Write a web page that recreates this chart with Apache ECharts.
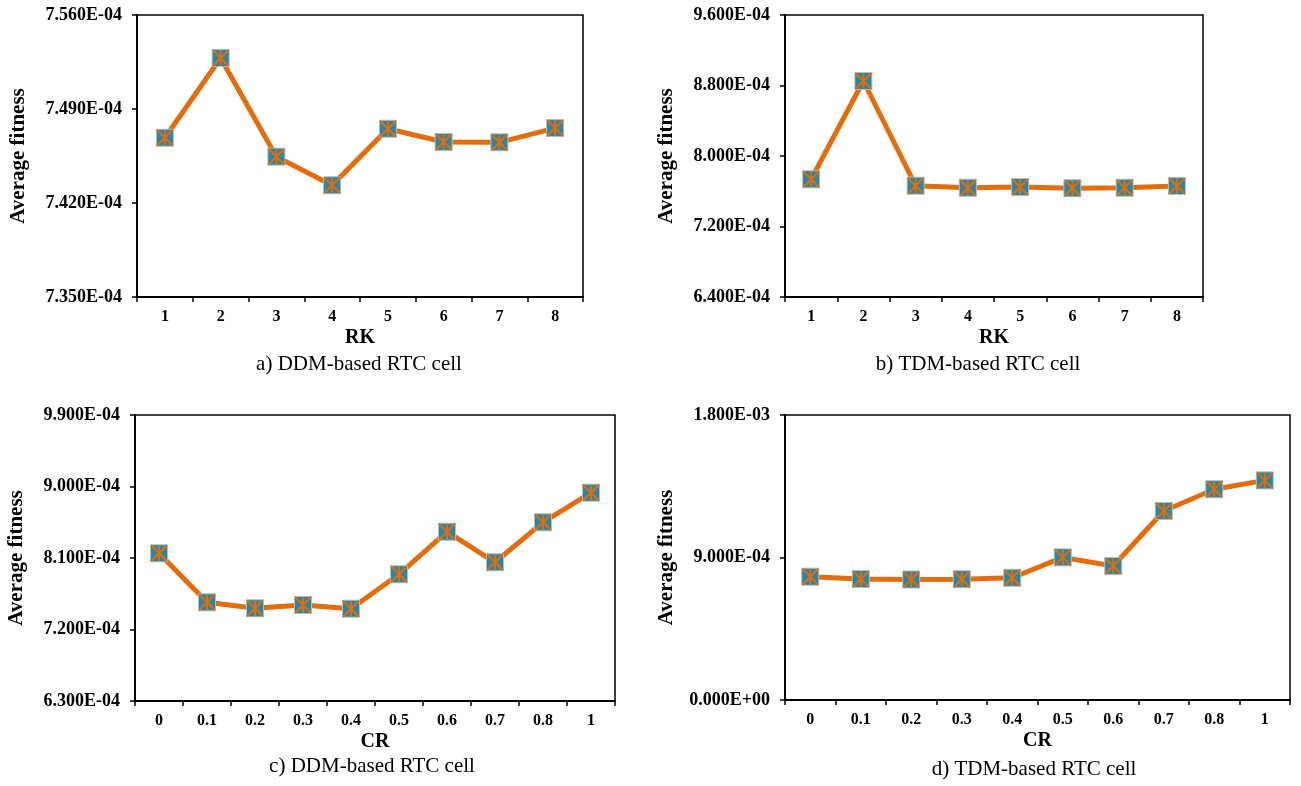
<!DOCTYPE html>
<html>
<head>
<meta charset="utf-8">
<script src="https://cdn.jsdelivr.net/npm/echarts@6/dist/echarts.min.js"></script>
<style>
  html, body { margin: 0; padding: 0; background: #fff; }
  #chart { width: 1301px; height: 786px; }
</style>
</head>
<body>
<div id="chart"></div>
<script>
// categories
const rkLabels = ['1', '2', '3', '4', '5', '6', '7', '8'];
const crLabels = ['0', '0.1', '0.2', '0.3', '0.4', '0.5', '0.6', '0.7', '0.8', '1'];

// average fitness values
const ddmRK = [7.4686e-4, 7.528e-4, 7.4545e-4, 7.4332e-4, 7.4753e-4, 7.4654e-4, 7.4652e-4, 7.4758e-4];
const tdmRK = [7.736e-4, 8.851e-4, 7.663e-4, 7.640e-4, 7.648e-4, 7.634e-4, 7.640e-4, 7.660e-4];
const ddmCR = [8.159e-4, 7.542e-4, 7.467e-4, 7.508e-4, 7.462e-4, 7.895e-4, 8.431e-4, 8.046e-4, 8.549e-4, 8.922e-4];
const tdmCR = [7.787e-4, 7.642e-4, 7.61e-4, 7.63e-4, 7.72e-4, 9.01e-4, 8.46e-4, 11.94e-4, 13.31e-4, 13.87e-4];

// y axis ranges [min, max, interval]
const yRanges = [
    [7.35e-4, 7.56e-4, 0.07e-4],
    [6.4e-4, 9.6e-4, 0.8e-4],
    [6.3e-4, 9.9e-4, 0.9e-4],
    [0, 1.8e-3, 9e-4]
];

const captions = ['a) DDM-based RTC cell', 'b) TDM-based RTC cell', 'c) DDM-based RTC cell', 'd) TDM-based RTC cell'];
const xNames = ['RK', 'RK', 'CR', 'CR'];

const FONT = '"Liberation Serif", "Times New Roman", serif';
const ORANGE = '#E46C0A';
const TEAL = '#31849B';

function sci(v) {
    const s = Number(v).toExponential(3);
    const parts = s.split('e');
    const n = parseInt(parts[1], 10);
    return parts[0] + 'E' + (n < 0 ? '-' : '+') + String(Math.abs(n)).padStart(2, '0');
}

const grids = [
    { left: 137, top: 15, width: 446, height: 282 },
    { left: 785, top: 15, width: 418, height: 282 },
    { left: 135, top: 415, width: 480, height: 286 },
    { left: 785, top: 415, width: 505, height: 285 }
];
const cats = [rkLabels, rkLabels, crLabels, crLabels];
const values = [ddmRK, tdmRK, ddmCR, tdmCR];
const captionPos = [[359, 354], [978, 354], [372, 756], [1034, 759]];

const chart = echarts.init(document.getElementById('chart'));

const option = {
    animation: false,
    backgroundColor: '#fff',
    grid: grids.map(g => Object.assign({ show: true, borderColor: '#000', borderWidth: 1.5, backgroundColor: 'transparent' }, g)),
    xAxis: cats.map((c, i) => ({
        type: 'category',
        gridIndex: i,
        data: c,
        boundaryGap: true,
        name: xNames[i],
        nameLocation: 'middle',
        nameGap: 31,
        nameTextStyle: { fontFamily: FONT, fontWeight: 'bold', fontSize: 20, color: '#000' },
        axisLine: { lineStyle: { color: '#000', width: 2 } },
        axisTick: { show: true, length: 5, lineStyle: { color: '#000', width: 1.5 } },
        axisLabel: { fontFamily: FONT, fontWeight: 'bold', fontSize: 16, color: '#000', margin: 12 },
        splitLine: { show: false }
    })),
    yAxis: yRanges.map((r, i) => ({
        type: 'value',
        gridIndex: i,
        min: r[0],
        max: r[1],
        interval: r[2],
        name: 'Average fitness',
        nameLocation: 'middle',
        nameGap: 108,
        nameTextStyle: { fontFamily: FONT, fontWeight: 'bold', fontSize: 21, color: '#000' },
        axisLine: { show: true, lineStyle: { color: '#000', width: 2 } },
        axisTick: { show: true, length: 5, lineStyle: { color: '#000', width: 1.5 } },
        axisLabel: { fontFamily: FONT, fontWeight: 'bold', fontSize: 18, color: '#000', margin: 15, formatter: sci },
        splitLine: { show: false }
    })),
    graphic: captions.map((t, i) => ({
        type: 'text',
        x: captionPos[i][0],
        y: captionPos[i][1],
        style: { text: t, fontFamily: FONT, fontSize: 21, fill: '#000', textAlign: 'center', textVerticalAlign: 'top' }
    })),
    series: []
};

values.forEach((v, i) => {
    option.series.push({
        type: 'line',
        xAxisIndex: i,
        yAxisIndex: i,
        data: v,
        lineStyle: { color: ORANGE, width: 5 },
        symbol: 'rect',
        symbolSize: 17,
        itemStyle: { color: TEAL, borderColor: '#9cc6d2', borderWidth: 1 },
        z: 2
    });
    option.series.push({
        type: 'scatter',
        xAxisIndex: i,
        yAxisIndex: i,
        data: v,
        symbol: 'path://M0,0L16,16M16,0L0,16M8,0L8,16',
        symbolSize: 16,
        itemStyle: { color: 'transparent', borderColor: ORANGE, borderWidth: 2, opacity: 1 },
        z: 3
    });
});

chart.setOption(option);
</script>
</body>
</html>
